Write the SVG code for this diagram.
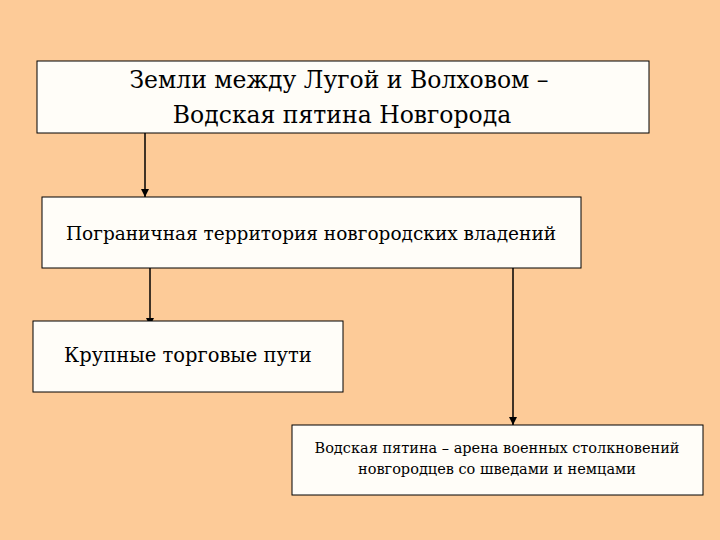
<svg xmlns="http://www.w3.org/2000/svg" width="720" height="540" viewBox="0 0 720 540">
<style>
.box{fill:#fffdf8;stroke:#000;stroke-width:1}
.t{font-family:"DejaVu Serif","Liberation Serif",serif;fill:#000;text-anchor:middle}
.c{stroke:#000;stroke-width:1.5;fill:none;marker-end:url(#a)}
</style>
<defs><marker id="a" markerWidth="8" markerHeight="8" refX="8" refY="4" orient="auto" markerUnits="userSpaceOnUse" viewBox="0 0 8 8"><path d="M0,0 L8,4 L0,8Z" fill="#000"/></marker></defs>
<rect width="720" height="540" fill="#fdcb98"/>
<g id="connectors">
<path class="c" d="M145,133 V197"/>
<path class="c" d="M150,268 V326"/>
<path class="c" d="M513,268 V425"/>
</g>
<g id="n1"><rect class="box" x="37" y="61" width="612" height="72"/>
<text class="t" x="339" y="88" font-size="23.5">Земли между Лугой и Волховом –</text>
<text class="t" x="342" y="123" font-size="23.5">Водская пятина Новгорода</text></g>
<g id="n2"><rect class="box" x="42" y="197" width="539" height="71"/>
<text class="t" x="311" y="240" font-size="18.5">Пограничная территория новгородских владений</text></g>
<g id="n3"><rect class="box" x="33" y="321" width="310" height="71"/>
<text class="t" x="188" y="362" font-size="19.5">Крупные торговые пути</text></g>
<g id="n4"><rect class="box" x="292" y="425" width="411" height="70"/>
<text class="t" x="497" y="453" font-size="14.5">Водская пятина – арена военных столкновений</text>
<text class="t" x="497" y="474" font-size="14.5">новгородцев со шведами и немцами</text></g>
</svg>
